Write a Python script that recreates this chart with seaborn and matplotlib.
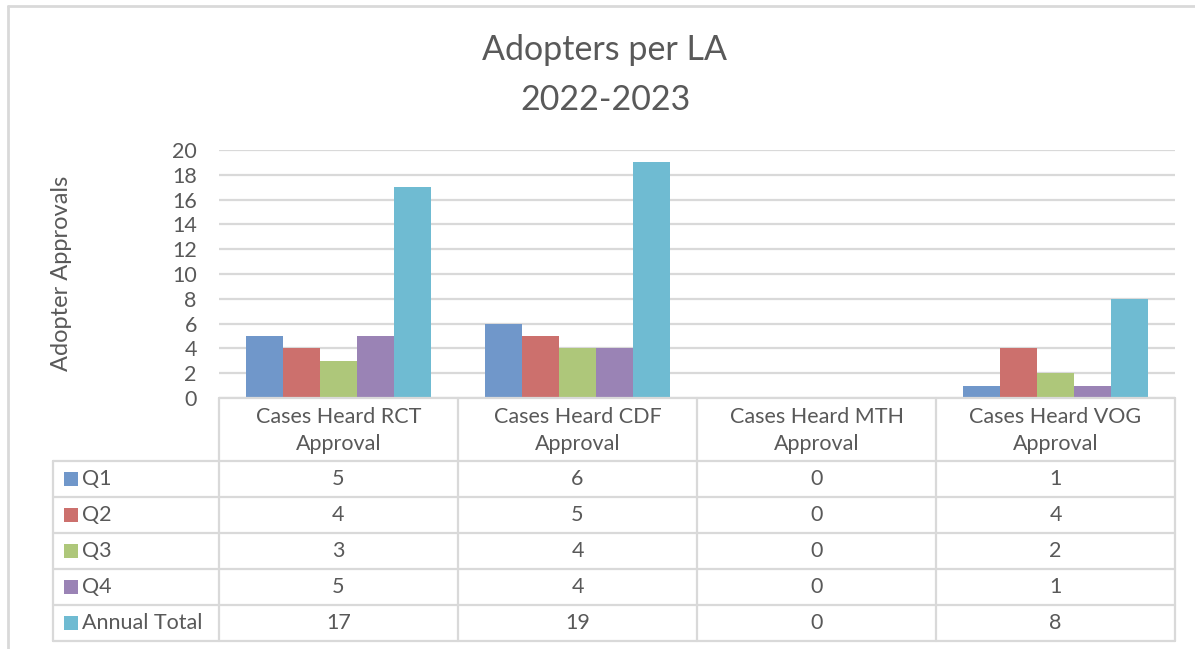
import matplotlib
matplotlib.use("Agg")
import matplotlib.pyplot as plt
from matplotlib.lines import Line2D
from matplotlib.patches import Rectangle
import seaborn as sns
import pandas as pd

sns.set_theme(style="white")
plt.rcParams['font.family'] = ['Lato', 'DejaVu Sans']

categories = ["Cases Heard RCT\nApproval", "Cases Heard CDF\nApproval",
              "Cases Heard MTH\nApproval", "Cases Heard VOG\nApproval"]
series = ["Q1", "Q2", "Q3", "Q4", "Annual Total"]
q1 = [5, 6, 0, 1]
q2 = [4, 5, 0, 4]
q3 = [3, 4, 0, 2]
q4 = [5, 4, 0, 1]
annual = [17, 19, 0, 8]
colors = ["#7097CA", "#CC706D", "#AEC77A", "#9A83B5", "#6FBBD2"]

values = [q1, q2, q3, q4, annual]
rows = []
for s, vals in zip(series, values):
    for c, v in zip(categories, vals):
        rows.append({"cat": c, "series": s, "value": v})
df = pd.DataFrame(rows)

W, H = 1195, 649
TXT = "#595959"
GRID = "#D9D9D9"

fig = plt.figure(figsize=(W / 100, H / 100), dpi=100)

def fx(x):
    return x / W

def fy(y):
    return 1 - y / H

# plot area in pixel coords
left, right, top, bottom = 219, 1175, 150, 398
ax = fig.add_axes([fx(left), fy(bottom), fx(right - left), (bottom - top) / H])

sns.barplot(data=df, x="cat", y="value", hue="series", palette=colors,
            width=0.77, saturation=1, legend=False, linewidth=0,
            edgecolor="none", ax=ax)
ax.set_ylim(0, 20)
ax.set_xlim(-0.5, len(categories) - 0.5)
ax.set_yticks(range(0, 21, 2))
ax.set_xticks([])
ax.set_xlabel("")
ax.set_ylabel("")
ax.yaxis.grid(True, color=GRID, lw=1.6)
ax.set_axisbelow(True)
for sp in ax.spines.values():
    sp.set_visible(False)
ax.tick_params(axis="y", length=0, pad=16, labelsize=15.5, labelcolor=TXT)

# titles
fig.text(fx(605), fy(50), "Adopters per LA", ha="center", va="center",
         fontsize=24.5, color=TXT)
fig.text(fx(605), fy(100), "2022-2023", ha="center", va="center",
         fontsize=24.5, color=TXT)
fig.text(fx(62), fy(273), "Adopter Approvals", ha="center", va="center",
         rotation=90, fontsize=17, color=TXT)

# outer chart border (left and top)
def hline(x0, x1, y, lw=1.6):
    fig.add_artist(Line2D([fx(x0), fx(x1)], [fy(y), fy(y)], color=GRID, lw=lw))

def vline(x, y0, y1, lw=1.6):
    fig.add_artist(Line2D([fx(x), fx(x)], [fy(y0), fy(y1)], color=GRID, lw=lw))

hline(8, W, 6, lw=2)
vline(8, 6, H, lw=2)

# data table
col_w = (right - left) / len(categories)
col_edges = [left + i * col_w for i in range(len(categories) + 1)]
header_bottom = 461
row_h = 36
row_edges = [header_bottom + i * row_h for i in range(len(series) + 1)]
table_left = 53

hline(left, right, bottom)
for y in row_edges:
    hline(table_left, right, y)
for x in col_edges:
    vline(x, bottom, row_edges[-1])
vline(table_left, header_bottom, row_edges[-1])

for i, c in enumerate(categories):
    cx = (col_edges[i] + col_edges[i + 1]) / 2
    fig.text(fx(cx), fy((bottom + header_bottom) / 2 + 1), c, ha="center",
             va="center", fontsize=15.5, color=TXT, linespacing=1.45)

for r, (s, vals, col) in enumerate(zip(series, values, colors)):
    cy = (row_edges[r] + row_edges[r + 1]) / 2
    fig.add_artist(Rectangle((fx(64), fy(cy + 7)), fx(14), 14 / H,
                             facecolor=col, edgecolor="none"))
    fig.text(fx(82), fy(cy), s, ha="left", va="center", fontsize=15.5, color=TXT)
    for i, v in enumerate(vals):
        cx = (col_edges[i] + col_edges[i + 1]) / 2
        fig.text(fx(cx), fy(cy), str(v), ha="center", va="center",
                 fontsize=15.5, color=TXT)

fig.savefig("out.png", dpi=100)
